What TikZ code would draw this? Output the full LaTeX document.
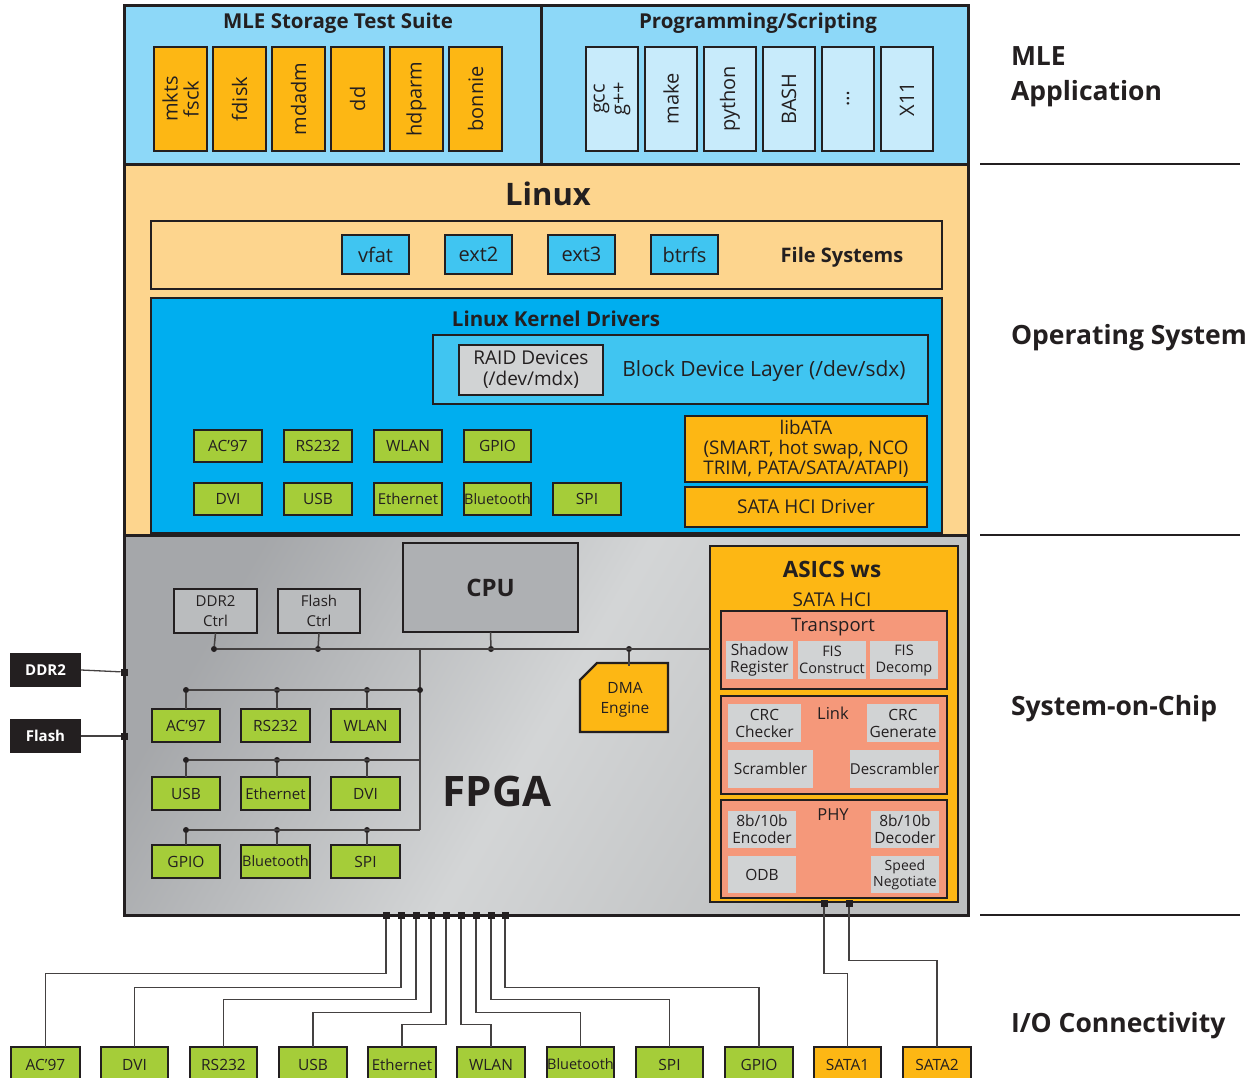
\documentclass[tikz,border=0pt]{standalone}
\usepackage{fontspec}
\setmainfont{Open Sans}
\usetikzlibrary{calc}
\definecolor{ink}{HTML}{231F20}
\definecolor{skyA}{HTML}{8DD8F8}
\definecolor{skyB}{HTML}{C8EBFB}
\definecolor{orng}{HTML}{FDB714}
\definecolor{tan}{HTML}{FDD58E}
\definecolor{fsblue}{HTML}{40C5F1}
\definecolor{kblue}{HTML}{00AEEF}
\definecolor{rgray}{HTML}{D1D3D4}
\definecolor{grn}{HTML}{A5CD39}
\definecolor{cpugray}{HTML}{AEB0B3}
\definecolor{salmon}{HTML}{F5987A}
\newcommand\fsz[2]{\fontsize{#1}{#2}\selectfont}
\newcommand\bx[7]{\node[#1, minimum width={(#5)-(#3)}, minimum height={(#6)-(#4)}] (#2) at ({((#3)+(#5))/2},{((#4)+(#6))/2}) {#7};}
\tikzset{
  every node/.style={inner sep=0pt, outer sep=0pt, text=ink},
  bd/.style={draw=ink, line width=2.4pt},
  layer/.style={draw=ink, line width=3pt},
  obox/.style={bd, fill=orng},
  pbox/.style={bd, fill=skyB},
  rot/.style={rotate=90, align=center, font=\fsz{20}{21}},
  fsbox/.style={bd, fill=fsblue, font=\fsz{20}{22}},
  gbox/.style={bd, fill=grn, font=\fsz{15.5}{17}},
  ctrl/.style={bd, fill=cpugray!85!white, align=center, font=\fsz{15}{20}},
  sal/.style={bd, fill=salmon},
  ibox/.style={fill=rgray, align=center, font=\fsz{15.5}{17}},
  dark/.style={fill=ink, text=white, font=\bfseries\fsz{15}{17}},
  pin/.style={fill=ink, minimum size=7pt},
  dot/.style={circle, fill=ink, minimum size=6pt},
  bus/.style={draw=ink!85, line width=1.5pt},
  wire/.style={draw=ink!85, line width=1.3pt},
  sep/.style={draw=ink, line width=2pt},
  ttl/.style={font=\bfseries\fsz{20}{22}},
  side/.style={anchor=west, align=left, font=\bfseries\fsz{26.5}{35}},
}
\begin{document}
\begin{tikzpicture}[x=1pt, y=-1pt]
\useasboundingbox[fill=white] (0,0) rectangle (1259,1078);

% ---------- MLE application layer
\bx{layer, fill=skyA}{mle}{124}{6}{541}{165}{}
\bx{layer, fill=skyA}{prog}{541}{6}{968}{165}{}
\node[ttl, font=\bfseries\fsz{20.5}{22}] (mlet) at (338,23) {MLE Storage Test Suite};
\node[ttl, font=\bfseries\fsz{20.5}{22}] (progt) at (758,23) {Programming/Scripting};

\bx{obox}{t1}{154}{47}{207}{151}{}
\bx{obox}{t2}{213}{47}{266}{151}{}
\bx{obox}{t3}{272}{47}{325}{151}{}
\bx{obox}{t4}{331}{47}{384}{151}{}
\bx{obox}{t5}{390}{47}{443}{151}{}
\bx{obox}{t6}{449}{47}{502}{151}{}
\node[rot] at (t1) {mkts\\fsck};
\node[rot] at (t2) {fdisk};
\node[rot] at (t3) {mdadm};
\node[rot] at (t4) {dd};
\node[rot] at (t5) {hdparm};
\node[rot] at (t6) {bonnie};

\bx{pbox}{u1}{586}{47}{638}{151}{}
\bx{pbox}{u2}{645}{47}{697}{151}{}
\bx{pbox}{u3}{704}{47}{756}{151}{}
\bx{pbox}{u4}{763}{47}{815}{151}{}
\bx{pbox}{u5}{822}{47}{874}{151}{}
\bx{pbox}{u6}{881}{47}{933}{151}{}
\node[rot] at (u1) {gcc\\g++};
\node[rot] at (u2) {make};
\node[rot] at (u3) {python};
\node[rot] at (u4) {BASH};
\node[rot] at (u5) {…};
\node[rot] at (u6) {X11};

% ---------- Linux layer
\bx{layer, fill=tan}{linux}{124}{165}{968}{535}{}
\node[font=\bfseries\fsz{31}{34}] (linuxt) at (548,194) {Linux};
\bx{bd, fill=tan}{fs}{151}{221}{942}{289}{}
\bx{fsbox}{vfat}{342}{235}{409}{274}{vfat}
\bx{fsbox}{ext2}{445}{235}{512}{274}{ext2}
\bx{fsbox}{ext3}{548}{235}{615}{274}{ext3}
\bx{fsbox}{btrfs}{651}{235}{718}{274}{btrfs}
\node[ttl] (fst) at (842,257) {File Systems};

\bx{bd, fill=kblue}{kd}{151}{298}{942}{533}{}
\node[ttl, font=\bfseries\fsz{20.5}{22}] (kdt) at (556,319) {Linux Kernel Drivers};
\bx{bd, fill=fsblue}{bdl}{433}{335}{928}{404}{}
\bx{bd, fill=rgray, align=center, font=\fsz{19}{21}}{raid}{459}{345}{603}{395}{RAID Devices\\(/dev/mdx)}
\node[font=\fsz{21}{24}] (bdlt) at (764,371) {Block Device Layer (/dev/sdx)};
\bx{obox, align=center, font=\fsz{18.8}{20}}{libata}{685}{416}{927}{482}{libATA\\(SMART, hot swap, NCO\\TRIM, PATA/SATA/ATAPI)}
\bx{obox, font=\fsz{19}{20}}{hcid}{685}{487}{927}{527}{SATA HCI Driver}

\bx{gbox}{k1}{194}{430}{262}{462}{AC’97}
\bx{gbox}{k2}{284}{430}{352}{462}{RS232}
\bx{gbox}{k3}{374}{430}{442}{462}{WLAN}
\bx{gbox}{k4}{464}{430}{531}{462}{GPIO}
\bx{gbox}{k5}{194}{483}{262}{515}{DVI}
\bx{gbox}{k6}{284}{483}{352}{515}{USB}
\bx{gbox, font=\fsz{15}{17}}{k7}{374}{483}{442}{515}{Ethernet}
\bx{gbox, font=\fsz{14.5}{17}}{k8}{464}{483}{531}{515}{Bluetooth}
\bx{gbox}{k9}{553}{483}{621}{515}{SPI}

% ---------- System-on-chip layer
\bx{layer, left color=cpugray!95!black, right color=rgray!90!black, middle color=rgray!95!white, shading angle=60}{soc}{124}{535}{968}{915}{}
\bx{bd, fill=cpugray, font=\bfseries\fsz{24}{26}}{cpu}{403}{543}{578}{632}{CPU}
\bx{ctrl}{ddrc}{174}{589}{257}{633}{DDR2\\Ctrl}
\bx{ctrl}{flc}{278}{589}{360}{633}{Flash\\Ctrl}

\filldraw[bd, fill=orng] (597,663) -- (668,663) -- (668,732) -- (580,732) -- (580,680) -- cycle;
\node[align=center, font=\fsz{15.5}{20}, minimum width=88pt, minimum height=69pt] (dma) at (625,700) {DMA\\Engine};

\node[font=\bfseries\fsz{42}{46}] (fpga) at (497,791) {FPGA};

\bx{gbox}{f1}{152}{709}{220}{742}{AC’97}
\bx{gbox}{f2}{241}{709}{310}{742}{RS232}
\bx{gbox}{f3}{331}{709}{400}{742}{WLAN}
\bx{gbox}{f4}{152}{777}{220}{810}{USB}
\bx{gbox, font=\fsz{15}{17}}{f5}{241}{777}{310}{810}{Ethernet}
\bx{gbox}{f6}{331}{777}{400}{810}{DVI}
\bx{gbox}{f7}{152}{845}{220}{878}{GPIO}
\bx{gbox, font=\fsz{14.5}{17}}{f8}{241}{845}{310}{878}{Bluetooth}
\bx{gbox}{f9}{331}{845}{400}{878}{SPI}

% ASICS
\bx{bd, fill=orng}{asic}{710}{546}{958}{902}{}
\node[font=\bfseries\fsz{22.5}{24}] (asict) at (832,569) {ASICS ws};
\node[font=\fsz{19}{20}] (hcit) at (832,600) {SATA HCI};
\bx{sal}{trans}{721}{611}{947}{689}{}
\node[font=\fsz{18.5}{20}] (transt) at (833,627) {Transport};
\bx{ibox}{sr}{726}{641}{793}{679}{Shadow\\Register}
\bx{ibox, font=\fsz{14.5}{17}}{fc}{798}{641}{866}{679}{FIS\\Construct}
\bx{ibox, font=\fsz{14.5}{17}}{fd}{870}{641}{938}{679}{FIS\\Decomp}
\bx{sal}{link}{721}{696}{947}{794}{}
\node[font=\fsz{16.5}{18}] (linkt) at (833,713) {Link};
\bx{ibox}{crcc}{728}{704}{801}{742}{CRC\\Checker}
\bx{ibox}{crcg}{867}{704}{939}{742}{CRC\\Generate}
\bx{ibox}{scr}{728}{750}{813}{788}{Scrambler}
\bx{ibox, font=\fsz{15}{17}}{dscr}{850}{750}{939}{788}{Descrambler}
\bx{sal}{phy}{721}{800}{947}{898}{}
\node[font=\fsz{16.5}{18}] (phyt) at (833,815) {PHY};
\bx{ibox}{enc}{728}{811}{796}{848}{8b/10b\\Encoder}
\bx{ibox}{dec}{871}{811}{939}{848}{8b/10b\\Decoder}
\bx{ibox}{odb}{728}{856}{796}{893}{ODB}
\bx{ibox, font=\fsz{14}{16}}{spd}{871}{856}{939}{893}{Speed\\Negotiate}

% buses inside FPGA
\node[dot] (d1) at (214,649) {};
\node[dot] (d2) at (318,649) {};
\node[dot] (d3) at (491,649) {};
\node[dot] (d4) at (629,649) {};
\coordinate (v0) at (420,649);
\coordinate (v3) at (420,830);
\draw[bus] (d1) -- (d1 -| asic.west);
\draw[bus] (ddrc.south) -- (d1);
\draw[bus] (flc.south) -- (d2);
\draw[bus] (cpu.south) -- (d3);
\draw[bus] (d4) -- (dma.north -| d4);
\draw[bus] (v0) -- (v3);
\node[dot] (r11) at (186,690) {};
\node[dot] (r12) at (277,690) {};
\node[dot] (r13) at (367,690) {};
\node[dot] (r14) at (420,690) {};
\draw[bus] (r11) -- (r14);
\node[dot] (r21) at (186,760) {};
\node[dot] (r22) at (277,760) {};
\node[dot] (r23) at (367,760) {};
\draw[bus] (r21) -- (r21 -| v0);
\node[dot] (r31) at (186,830) {};
\node[dot] (r32) at (277,830) {};
\node[dot] (r33) at (367,830) {};
\draw[bus] (r31) -- (v3);
\draw[bus] (r11) -- (r11 |- f1.north);
\draw[bus] (r12) -- (r12 |- f2.north);
\draw[bus] (r13) -- (r13 |- f3.north);
\draw[bus] (r21) -- (r21 |- f4.north);
\draw[bus] (r22) -- (r22 |- f5.north);
\draw[bus] (r23) -- (r23 |- f6.north);
\draw[bus] (r31) -- (r31 |- f7.north);
\draw[bus] (r32) -- (r32 |- f8.north);
\draw[bus] (r33) -- (r33 |- f9.north);

% external memory
\bx{dark}{ddr}{10}{653}{81}{687}{DDR2}
\bx{dark}{flash}{10}{719}{81}{753}{Flash}
\node[pin] (pd) at (124,672) {};
\node[pin] (pf) at (124,736) {};
\draw[wire] (ddr.east) -- (pd);
\draw[wire] (flash.east) -- (pf);

% I/O connectivity
\bx{gbox}{b1}{11}{1047}{80}{1082}{AC’97}
\bx{gbox}{b2}{101}{1047}{168}{1082}{DVI}
\bx{gbox}{b3}{190}{1047}{257}{1082}{RS232}
\bx{gbox}{b4}{279}{1047}{347}{1082}{USB}
\bx{gbox, font=\fsz{15}{17}}{b5}{368}{1047}{436}{1082}{Ethernet}
\bx{gbox}{b6}{457}{1047}{525}{1082}{WLAN}
\bx{gbox, font=\fsz{14.5}{17}}{b7}{547}{1047}{614}{1082}{Bluetooth}
\bx{gbox}{b8}{636}{1047}{703}{1082}{SPI}
\bx{gbox}{b9}{725}{1047}{793}{1082}{GPIO}
\bx{obox, font=\fsz{15.5}{17}}{sa1}{814}{1047}{881}{1082}{SATA1}
\bx{obox, font=\fsz{15.5}{17}}{sa2}{903}{1047}{971}{1082}{SATA2}

\node[pin] (p1) at (386,915) {};
\node[pin] (p2) at (401,915) {};
\node[pin] (p3) at (416,915) {};
\node[pin] (p4) at (431,915) {};
\node[pin] (p5) at (446,915) {};
\node[pin] (p6) at (461,915) {};
\node[pin] (p7) at (476,915) {};
\node[pin] (p8) at (491,915) {};
\node[pin] (p9) at (505,915) {};
\draw[wire] (p1.south) |- ++(0,55) -| (b1.north);
\draw[wire] (p2.south) |- ++(0,69) -| (b2.north);
\draw[wire] (p3.south) |- ++(0,81) -| (b3.north);
\draw[wire] (p4.south) |- ++(0,94) -| (b4.north);
\draw[wire] (p5.south) |- ++(0,106) -| (b5.north);
\draw[wire] (p6.south) |- ++(0,106) -| (b6.north);
\draw[wire] (p7.south) |- ++(0,94) -| (b7.north);
\draw[wire] (p8.south) |- ++(0,81) -| (b8.north);
\draw[wire] (p9.south) |- ++(0,69) -| (b9.north);

\node[pin] (s1) at (824,903) {};
\node[pin] (s2) at (849,903) {};
\draw[wire] (s1.south) -- ++(0,67) -| (sa1.north);
\draw[wire] (s2.south) -- ++(0,54) -| (sa2.north);

% right-hand layer labels
\draw[sep] (980,164) -- (1240,164);
\draw[sep] (980,535) -- (1240,535);
\draw[sep] (980,915) -- (1240,915);
\node[side] (lab1) at (1011,77) {MLE\\Application};
\node[side] (lab2) at (1011,338) {Operating System};
\node[side] (lab3) at (1011,709) {System-on-Chip};
\node[side] (lab4) at (1011,1026) {I/O Connectivity};
\end{tikzpicture}
\end{document}
